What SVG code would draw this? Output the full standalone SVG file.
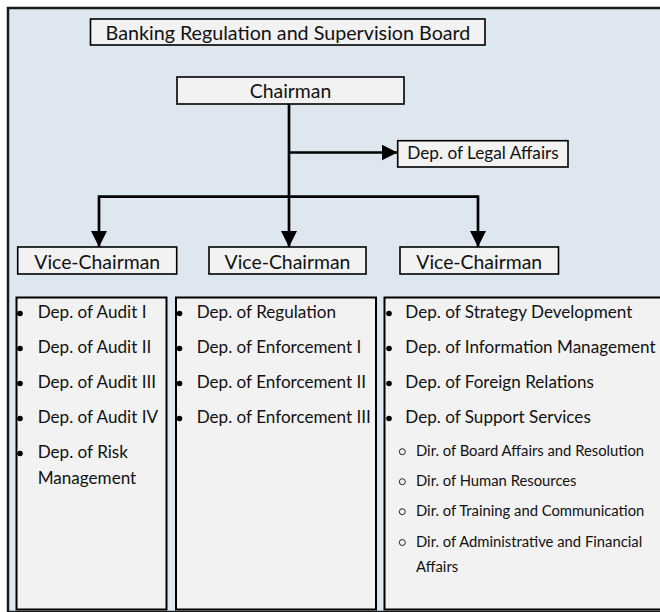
<svg xmlns="http://www.w3.org/2000/svg" width="660" height="612" viewBox="0 0 660 612">
<defs>
<style>
.frame{fill:#DEE6EF;stroke:#1a1a1a;stroke-width:2.5}
.hbox{fill:#F2F2F2;stroke:#000;stroke-width:1.6}
.lbox{fill:#F2F2F2;stroke:#000;stroke-width:2}
.ht{font-family:Lato,"Liberation Sans",sans-serif;font-size:19.4px;fill:#111;text-anchor:middle}
.tt{font-family:Lato,"Liberation Sans",sans-serif;font-size:19.7px;fill:#111;text-anchor:middle}
.lt{font-family:Lato,"Liberation Sans",sans-serif;font-size:17.2px;fill:#111;text-anchor:middle}
.it{font-family:Lato,"Liberation Sans",sans-serif;font-size:17.1px;fill:#111}
.st{font-family:Lato,"Liberation Sans",sans-serif;font-size:14.8px;fill:#111}
.conn{fill:none;stroke:#000;stroke-width:2.7}
.dot{fill:#000}
.ring{fill:none;stroke:#222;stroke-width:1}
</style>
<marker id="ah" viewBox="0 0 16 16" refX="16" refY="8" markerWidth="16" markerHeight="16" markerUnits="userSpaceOnUse" orient="auto">
<path d="M0,0 L16,8 L0,16 Z" fill="#000"/>
</marker>
</defs>
<rect class="frame" x="8" y="8" width="690" height="604"/>

<g id="board">
<rect class="hbox" x="90.5" y="19" width="394.5" height="26"/>
<text class="tt" x="288" y="40">Banking Regulation and Supervision Board</text>
</g>
<g id="chairman">
<rect class="hbox" x="177" y="77" width="227" height="27"/>
<text class="ht" x="290.5" y="97.5">Chairman</text>
</g>
<g id="legal">
<rect class="hbox" x="397.7" y="140.7" width="170.3" height="26.3"/>
<text class="lt" x="483" y="159">Dep. of Legal Affairs</text>
</g>
<g id="vice1">
<rect class="hbox" x="17.7" y="247" width="159" height="27"/>
<text class="ht" x="97.2" y="268.8">Vice-Chairman</text>
</g>
<g id="vice2">
<rect class="hbox" x="209" y="247" width="157" height="27"/>
<text class="ht" x="287.5" y="268.8">Vice-Chairman</text>
</g>
<g id="vice3">
<rect class="hbox" x="400" y="247" width="158.5" height="27"/>
<text class="ht" x="479.2" y="268.8">Vice-Chairman</text>
</g>

<g id="connectors">
<path class="conn" d="M289,104 V247" marker-end="url(#ah)"/>
<path class="conn" d="M289,152.5 H397.5" marker-end="url(#ah)"/>
<path class="conn" d="M99,196.7 H478"/>
<path class="conn" d="M99,195.4 V247" marker-end="url(#ah)"/>
<path class="conn" d="M478,195.4 V247" marker-end="url(#ah)"/>
</g>

<g id="list1">
<rect class="lbox" x="16.5" y="297.5" width="150" height="312"/>
<circle class="dot" cx="20" cy="313.5" r="2.8"/>
<circle class="dot" cx="20" cy="348.5" r="2.8"/>
<circle class="dot" cx="20" cy="383.5" r="2.8"/>
<circle class="dot" cx="20" cy="418.5" r="2.8"/>
<circle class="dot" cx="20" cy="453.5" r="2.8"/>
<text class="it" x="37.7" y="318.3">Dep. of Audit I</text>
<text class="it" x="37.7" y="353.3">Dep. of Audit II</text>
<text class="it" x="37.7" y="388.3">Dep. of Audit III</text>
<text class="it" x="37.7" y="423.3">Dep. of Audit IV</text>
<text class="it" x="37.7" y="458.3">Dep. of Risk</text>
<text class="it" x="37.7" y="484.3">Management</text>
</g>

<g id="list2">
<rect class="lbox" x="176" y="297.5" width="200" height="312"/>
<circle class="dot" cx="179.5" cy="313.5" r="2.8"/>
<circle class="dot" cx="179.5" cy="348.5" r="2.8"/>
<circle class="dot" cx="179.5" cy="383.5" r="2.8"/>
<circle class="dot" cx="179.5" cy="418.5" r="2.8"/>
<text class="it" x="196.7" y="318.3">Dep. of Regulation</text>
<text class="it" x="196.7" y="353.3">Dep. of Enforcement I</text>
<text class="it" x="196.7" y="388.3">Dep. of Enforcement II</text>
<text class="it" x="196.7" y="423.3">Dep. of Enforcement III</text>
</g>

<g id="list3">
<rect class="lbox" x="384.5" y="297.5" width="320" height="312"/>
<circle class="dot" cx="389" cy="313.5" r="2.8"/>
<circle class="dot" cx="389" cy="348.5" r="2.8"/>
<circle class="dot" cx="389" cy="383.5" r="2.8"/>
<circle class="dot" cx="389" cy="418.5" r="2.8"/>
<text class="it" x="405.3" y="318.3">Dep. of Strategy Development</text>
<text class="it" x="405.3" y="353.3">Dep. of Information Management</text>
<text class="it" x="405.3" y="388.3">Dep. of Foreign Relations</text>
<text class="it" x="405.3" y="423.3">Dep. of Support Services</text>
<circle class="ring" cx="402.3" cy="451.7" r="3"/>
<circle class="ring" cx="402.3" cy="481.7" r="3"/>
<circle class="ring" cx="402.3" cy="511.7" r="3"/>
<circle class="ring" cx="402.3" cy="542.5" r="3"/>
<text class="st" x="416" y="456">Dir. of Board Affairs and Resolution</text>
<text class="st" x="416" y="486">Dir. of Human Resources</text>
<text class="st" x="416" y="516">Dir. of Training and Communication</text>
<text class="st" x="416" y="547">Dir. of Administrative and Financial</text>
<text class="st" x="416" y="572">Affairs</text>
</g>
</svg>
